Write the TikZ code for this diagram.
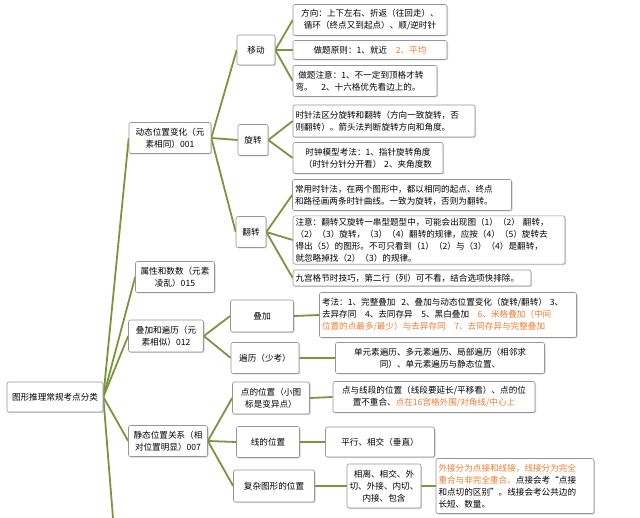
\documentclass[tikz,border=0pt]{standalone}
\usepackage{fontspec}
\setmainfont{Noto Sans CJK SC}
\usetikzlibrary{shadows}
\definecolor{lg}{RGB}{122,150,60}
\definecolor{og}{RGB}{237,125,49}
\definecolor{bd}{RGB}{150,150,150}
\pgfdeclarelayer{back}\pgfdeclarelayer{bg}\pgfsetlayers{back,bg,main}
\tikzset{
 bx/.style={draw=bd,fill=white,rounded corners=2pt,line width=0.6pt,drop shadow={shadow xshift=1pt,shadow yshift=-1pt,opacity=0.35},
  font=\fontsize{8.6}{12}\selectfont,inner sep=2pt,align=center},
 lk/.style={draw=lg,line width=1.8pt}
}
\newcommand{\bxn}[6]{\node[bx,minimum width=#4pt,minimum height=#5pt,text width=#4pt-5pt,#6] (#1) at (#2,#3)}
\begin{document}
\begin{tikzpicture}[x=1pt,y=-1pt]
\begin{pgfonlayer}{back}
\fill[white] (0,0) rectangle (640,518);
\end{pgfonlayer}
\useasboundingbox (0,0) rectangle (640,518);
\coordinate (down) at (113,518);
\bxn{root}{55}{397}{96}{30}{}{图形推理常规考点分类};
\bxn{A}{170}{138}{82}{31}{}{动态位置变化（元\\素相同）001};
\bxn{mv}{256}{50}{38}{30}{}{移动};
\bxn{m1}{370}{20}{154}{31}{}{方向：上下左右、折返（往回走）、\\循环（终点又到起点）、顺/逆时针};
\bxn{m2}{370}{50}{154}{19}{}{做题原则：1、就近\quad\textcolor{og}{2、平均}};
\bxn{m3}{365}{81}{144}{31}{align=left}{\ 做题注意：1、不一定到顶格才转\\弯。\quad 2、十六格优先看边上的。};
\bxn{rt}{253}{140}{30}{31}{}{旋转};
\bxn{r1}{384}{121}{182}{32}{align=left}{时针法区分旋转和翻转（方向一致旋转，否\\则翻转）。箭头法判断旋转方向和角度。};
\bxn{r2}{368}{158}{150}{31}{}{时钟模型考法：1、指针旋转角度\\（时针分针分开看） 2、夹角度数};
\bxn{fl}{251}{232}{30}{31}{}{翻转};
\bxn{f1}{402}{195}{219}{31}{align=left}{常用时针法，在两个图形中，都以相同的起点、终点\\和路径画两条时针曲线。一致为旋转，否则为翻转。};
\bxn{f2}{429}{240}{272}{45}{align=left}{注意：翻转又旋转一串型题型中，可能会出现图（1）（2）\ 翻转，\\（2）（3）旋转，（3）（4）翻转的规律，应按（4）（5）旋转去\\得出（5）的图形。不可只看到（1）（2）与（3）（4）是翻转，\\就忽略掉找（2）（3）的规律。};
\bxn{f3}{412}{278}{238}{16}{align=left}{九宫格节时技巧，第二行（列）可不看，结合选项快排除。};
\bxn{B}{175}{277}{79}{31}{}{属性和数数（元素\\凌乱）015};
\bxn{C}{166}{336}{75}{32}{}{叠加和遍历（元\\素相似）012};
\bxn{ov}{262}{316}{63}{32}{}{叠加};
\bxn{o1}{448}{315}{257}{45}{align=left}{考法：1、完整叠加\ \ 2、叠加与动态位置变化（旋转/翻转）\ 3、\\去异存同\quad 4、去同存异\quad 5、黑白叠加\quad \textcolor{og}{6、米格叠加（中间}\\\textcolor{og}{位置的点最多/最少）与去异存同\quad 7、去同存异与完整叠加}};
\bxn{tv}{265}{358}{68}{31}{}{遍历（少考）};
\bxn{t1}{440}{358}{209}{31}{}{单元素遍历、多元素遍历、局部遍历（相邻求\\同）、单元素遍历与静态位置、};
\bxn{D}{168}{441}{79}{31}{}{静态位置关系（相\\对位置明显）007};
\bxn{pt}{271}{398}{77}{32}{}{点的位置（小图\\标是变异点）};
\bxn{p1}{434}{397}{202}{31}{}{点与线段的位置（线段要延长/平移看）、点的位\\置不重合、\textcolor{og}{点在16宫格外围/对角线/中心上}};
\bxn{ln}{268}{442}{63}{31}{}{线的位置};
\bxn{l1}{380}{442}{109}{30}{}{平行、相交（垂直）};
\bxn{cx}{274}{486}{81}{32}{}{复杂图形的位置};
\bxn{c1}{384}{486}{74}{44}{}{相离、相交、外\\切、外接、内切、\\内接、包含};
\bxn{c2}{515}{486}{158}{55}{align=left}{\textcolor{og}{外接分为点接和线接，线接分为完全}\\\textcolor{og}{重合与非完全重合。}点接会考“点接\\和点切的区别”。线接会考公共边的\\长短、数量。};
\begin{pgfonlayer}{bg}
\draw[lk] (root.east) -- (A.west);
\draw[lk] (root.east) -- (B.west);
\draw[lk] (root.east) -- (C.west);
\draw[lk] (root.east) -- (D.west);
\draw[lk] (root.east) -- (down);
\foreach \t in {mv,rt,fl} \draw[lk] (A.east) -- (\t.west);
\foreach \t in {m1,m2,m3} \draw[lk] (mv.east) -- (\t.west);
\foreach \t in {r1,r2} \draw[lk] (rt.east) -- (\t.west);
\foreach \t in {f1,f2,f3} \draw[lk] (fl.east) -- (\t.west);
\foreach \t in {ov,tv} \draw[lk] (C.east) -- (\t.west);
\draw[lk] (ov.east) -- (o1.west);
\draw[lk] (tv.east) -- (t1.west);
\foreach \t in {pt,ln,cx} \draw[lk] (D.east) -- (\t.west);
\draw[lk] (pt.east) -- (p1.west);
\draw[lk] (ln.east) -- (l1.west);
\draw[lk] (cx.east) -- (c1.west);
\draw[lk] (c1.east) -- (c2.west);
\end{pgfonlayer}
\end{tikzpicture}
\end{document}
